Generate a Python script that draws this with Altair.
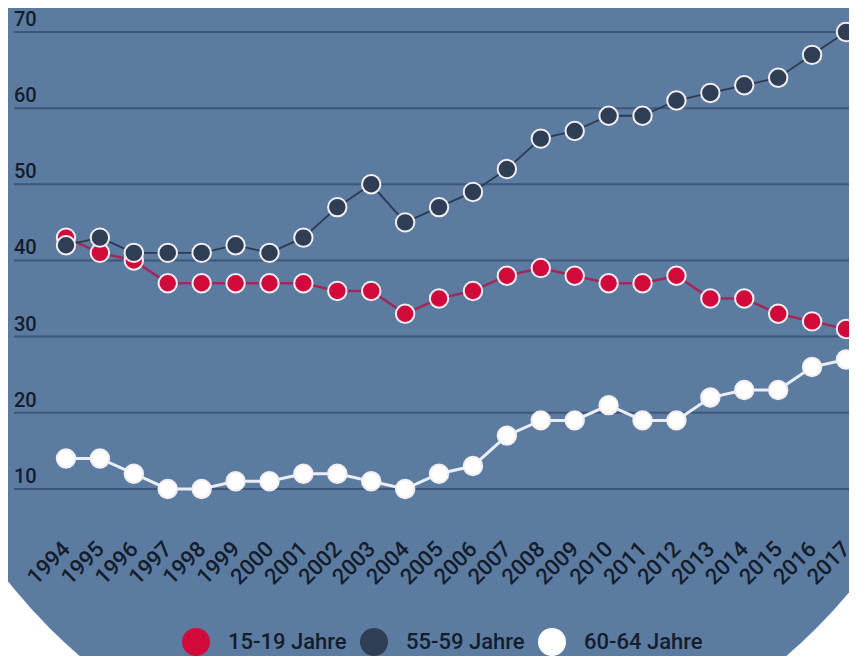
import altair as alt
import pandas as pd

years = list(range(1994, 2018))
series = ["15-19 Jahre", "55-59 Jahre", "60-64 Jahre"]
red = [43, 41, 40, 37, 37, 37, 37, 37, 36, 36, 33, 35, 36, 38, 39, 38, 37, 37, 38, 35, 35, 33, 32, 31]
dark = [42, 43, 41, 41, 41, 42, 41, 43, 47, 50, 45, 47, 49, 52, 56, 57, 59, 59, 61, 62, 63, 64, 67, 70]
white = [14, 14, 12, 10, 10, 11, 11, 12, 12, 11, 10, 12, 13, 17, 19, 19, 21, 19, 19, 22, 23, 23, 26, 27]
y_ticks = [10, 20, 30, 40, 50, 60, 70]

fill_colors = ["#d20a3c", "#2f3e54", "#ffffff"]
line_colors = ["#a3285a", "#2c3b52", "#e9eef5"]
line_widths = [2.5, 1.8, 3]
BG = "#5b7ba0"
TXT = "#151d2c"

rows = []
for name, vals in zip(series, [red, dark, white]):
    for yr, v in zip(years, vals):
        rows.append({"series": name, "year": yr, "value": v})
df = pd.DataFrame(rows)
grid_df = pd.DataFrame({"v": y_ticks})
one = pd.DataFrame({"a": [0]})

xscale = alt.Scale(domain=[1994, 2017], nice=False, zero=False)
yscale = alt.Scale(domain=[5, 70], nice=False, zero=False)

xaxis = alt.Axis(values=years, format="d", labelAngle=315, grid=False, domain=False,
                 ticks=False, tickSize=0, labelPadding=18, labelAlign="right",
                 labelBaseline="middle", labelFontSize=22, labelFont="Roboto",
                 labelFontWeight=500, labelColor=TXT, title=None, zindex=1,
                 labelOverlap=False, labelFlush=False, labelBound=False)

R = 542
bg = alt.Chart(one).mark_circle(size=4 * R * R, color=BG, opacity=1).encode(
    x=alt.value(367), y=alt.value(213))

grid = alt.Chart(grid_df).mark_rule(color="#3d5679", strokeWidth=2).encode(
    y=alt.Y("v:Q", scale=yscale, axis=None), x=alt.value(-52), x2=alt.value(800))

ylabels = alt.Chart(grid_df).mark_text(align="left", baseline="bottom", dy=-2,
                                       fontSize=20, font="Roboto", fontWeight=500,
                                       color=TXT).encode(
    x=alt.value(-52), y=alt.Y("v:Q", scale=yscale, axis=None), text="v:Q")

line_layers = []
for name, col, w in zip(series, line_colors, line_widths):
    line_layers.append(
        alt.Chart(df).transform_filter(alt.datum.series == name)
        .mark_line(strokeWidth=w, color=col)
        .encode(x=alt.X("year:Q", scale=xscale, axis=xaxis),
                y=alt.Y("value:Q", scale=yscale, axis=None))
    )

points = alt.Chart(df).mark_circle(size=340, opacity=1, stroke="#f3eef2", strokeWidth=2).encode(
    x=alt.X("year:Q", scale=xscale, axis=xaxis),
    y=alt.Y("value:Q", scale=yscale, axis=None),
    fill=alt.Fill("series:N", scale=alt.Scale(domain=series, range=fill_colors),
                  legend=alt.Legend(title=None, orient="none", legendX=116, legendY=596,
                                    direction="horizontal", symbolType="circle",
                                    symbolSize=784, symbolStrokeWidth=0, symbolOpacity=1,
                                    labelFontSize=22, labelFont="Roboto", labelFontWeight=500,
                                    labelColor=TXT, labelOffset=18, columnPadding=13,
                                    padding=0)),
)

chart = alt.layer(bg, grid, *line_layers, points, ylabels).properties(
    width=780, height=495,
    autosize=alt.AutoSizeParams(type="none"),
    padding={"left": 58, "top": 24, "right": 3, "bottom": 129},
    background="white",
).configure_view(stroke=None)

chart.save("out.html", embed_options={"renderer": "svg", "actions": False})
